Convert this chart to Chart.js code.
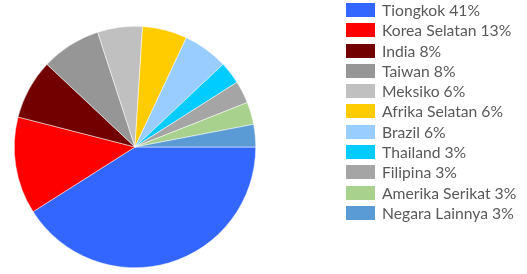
<!DOCTYPE html>
<html>
<head>
<meta charset="utf-8">
<script src="https://cdn.jsdelivr.net/npm/chart.js@4"></script>
<style>
    html, body { margin: 0; padding: 0; background: #fff; }
    #wrap { position: relative; width: 527px; height: 274px; }
    #legend { position: absolute; left: 346px; top: 3px; font-family: Lato, "Noto Sans", sans-serif; font-size: 15.7px; color: #595959; }
    .item { height: 20.3px; display: flex; align-items: flex-start; white-space: nowrap; }
    .box { width: 29px; height: 14px; margin-right: 7px; flex: none; }
    .txt { line-height: 14px; }
</style>
</head>
<body>
<div id="wrap">
    <canvas id="pieChart" width="527" height="274"></canvas>
    <div id="legend"></div>
</div>
<script>
const countries = ["Tiongkok", "Korea Selatan", "India", "Taiwan", "Meksiko", "Afrika Selatan",
    "Brazil", "Thailand", "Filipina", "Amerika Serikat", "Negara Lainnya"];
const shares = [41, 13, 8, 8, 6, 6, 6, 3, 3, 3, 3];
const colors = ["#3366ff", "#ff0000", "#720000", "#969696", "#c0c0c0", "#ffcc00",
    "#99ccff", "#00ccff", "#a5a5a5", "#a9d18e", "#5b9bd5"];

const labelText = countries.map((c, i) => c + " " + shares[i] + "%");

// legend in html, same arrays
const legendEl = document.getElementById("legend");
labelText.forEach((t, i) => {
    const row = document.createElement("div");
    row.className = "item";
    row.innerHTML = '<span class="box" style="background:' + colors[i] + '"></span><span class="txt">' + t + '</span>';
    legendEl.appendChild(row);
});

new Chart(document.getElementById("pieChart"), {
    type: "pie",
    data: {
        labels: labelText,
        datasets: [{
            data: shares,
            backgroundColor: colors,
            borderColor: "#ffffff",
            borderWidth: 0.5,
        }]
    },
    options: {
        responsive: false,
        animation: false,
        rotation: 90,
        layout: { padding: { left: 14, top: 26, bottom: 6, right: 271 } },
        plugins: {
            legend: { display: false },
            tooltip: { enabled: false },
        }
    }
});
</script>
</body>
</html>
